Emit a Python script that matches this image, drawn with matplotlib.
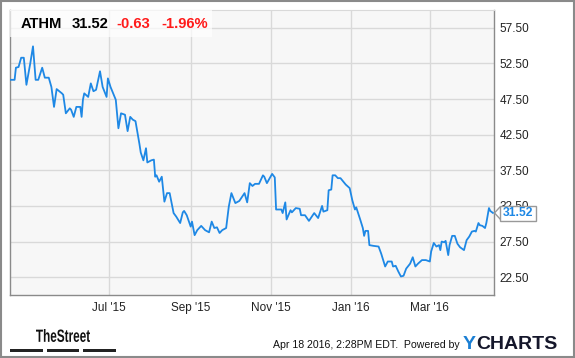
import matplotlib
matplotlib.use("Agg")
import matplotlib.pyplot as plt
import matplotlib.dates as mdates
import pandas as pd
from matplotlib.patches import Rectangle, PathPatch
from matplotlib.textpath import TextPath
from matplotlib.font_manager import FontProperties
from matplotlib.transforms import Affine2D, IdentityTransform

plt.rcParams['font.family'] = ['Liberation Sans', 'DejaVu Sans']

W, H = 575, 358

# ATHM daily close
dates = [
    "2015-04-17", "2015-04-20", "2015-04-21", "2015-04-23", "2015-04-25", "2015-04-27",
    "2015-04-29", "2015-05-02", "2015-05-04", "2015-05-06", "2015-05-08", "2015-05-11",
    "2015-05-13", "2015-05-16", "2015-05-18", "2015-05-20", "2015-05-22", "2015-05-26",
    "2015-05-27", "2015-05-29", "2015-06-01", "2015-06-02", "2015-06-04", "2015-06-06",
    "2015-06-09", "2015-06-10", "2015-06-11", "2015-06-12", "2015-06-15", "2015-06-17",
    "2015-06-19", "2015-06-21", "2015-06-24", "2015-06-26", "2015-06-29", "2015-06-30",
    "2015-07-02", "2015-07-06", "2015-07-08", "2015-07-10", "2015-07-13", "2015-07-15",
    "2015-07-17", "2015-07-19", "2015-07-21", "2015-07-24", "2015-07-25", "2015-07-27",
    "2015-07-29", "2015-07-30", "2015-08-02", "2015-08-04", "2015-08-05", "2015-08-06",
    "2015-08-08", "2015-08-10", "2015-08-12", "2015-08-14", "2015-08-16", "2015-08-19",
    "2015-08-21", "2015-08-24", "2015-08-26", "2015-08-27", "2015-08-29", "2015-09-01",
    "2015-09-02", "2015-09-04", "2015-09-06", "2015-09-09", "2015-09-12", "2015-09-15",
    "2015-09-17", "2015-09-19", "2015-09-21", "2015-09-23", "2015-09-25", "2015-09-28",
    "2015-09-30", "2015-10-02", "2015-10-05", "2015-10-08", "2015-10-12", "2015-10-14",
    "2015-10-16", "2015-10-18", "2015-10-20", "2015-10-23", "2015-10-26", "2015-10-27",
    "2015-10-29", "2015-11-02", "2015-11-04", "2015-11-05", "2015-11-09", "2015-11-10",
    "2015-11-12", "2015-11-13", "2015-11-16", "2015-11-17", "2015-11-20", "2015-11-23",
    "2015-11-24", "2015-11-27", "2015-11-30", "2015-12-04", "2015-12-07", "2015-12-10",
    "2015-12-11", "2015-12-14", "2015-12-15", "2015-12-17", "2015-12-18", "2015-12-20",
    "2015-12-22", "2015-12-24", "2015-12-28", "2015-12-31", "2016-01-02", "2016-01-04",
    "2016-01-05", "2016-01-08", "2016-01-10", "2016-01-11", "2016-01-12", "2016-01-14",
    "2016-01-15", "2016-01-18", "2016-01-22", "2016-01-24", "2016-01-27", "2016-01-29",
    "2016-02-01", "2016-02-02", "2016-02-04", "2016-02-06", "2016-02-08", "2016-02-10",
    "2016-02-12", "2016-02-15", "2016-02-17", "2016-02-19", "2016-02-21", "2016-02-24",
    "2016-02-27", "2016-03-01", "2016-03-02", "2016-03-04", "2016-03-06", "2016-03-08",
    "2016-03-09", "2016-03-10", "2016-03-12", "2016-03-13", "2016-03-15", "2016-03-16",
    "2016-03-18", "2016-03-20", "2016-03-22", "2016-03-24", "2016-03-27", "2016-03-29",
    "2016-03-31", "2016-04-02", "2016-04-04", "2016-04-05", "2016-04-07", "2016-04-08",
    "2016-04-10", "2016-04-12", "2016-04-13", "2016-04-15", "2016-04-16", "2016-04-18",
]
prices = [
    50.2, 50.2, 51.9, 52.0, 53.3, 53.3,
    49.5, 52.6, 54.9, 50.2, 50.2, 51.9,
    50.5, 50.5, 49.2, 46.4, 48.9, 48.3,
    48.1, 45.5, 46.2, 46.0, 45.0, 46.4,
    46.4, 45.0, 47.4, 48.3, 47.8, 49.7,
    48.6, 48.8, 51.4, 49.2, 47.8, 50.4,
    49.2, 47.4, 43.4, 45.5, 45.3, 43.0,
    45.0, 44.6, 44.4, 41.2, 40.0, 38.9,
    40.6, 38.6, 38.9, 39.0, 36.6, 36.8,
    35.9, 36.6, 33.1, 34.3, 34.3, 31.5,
    31.0, 30.1, 31.6, 31.8, 31.2, 29.6,
    30.3, 28.4, 29.1, 29.7, 29.1, 28.8,
    30.3, 29.4, 29.5, 28.7, 29.1, 29.4,
    32.4, 34.3, 32.9, 33.2, 34.3, 33.0,
    35.7, 35.3, 35.6, 35.6, 36.8, 36.6,
    35.7, 37.0, 36.5, 32.0, 32.0, 31.5,
    33.0, 30.6, 31.9, 31.6, 32.2, 32.1,
    31.2, 31.2, 30.4, 31.5, 30.8, 32.5,
    31.7, 31.9, 34.7, 34.8, 36.8, 36.8,
    36.4, 36.4, 35.5, 35.0, 33.3, 32.0,
    32.3, 30.6, 29.4, 28.3, 29.0, 29.0,
    27.0, 26.9, 26.8, 25.8, 24.0, 24.7,
    24.7, 24.0, 24.1, 23.3, 22.6, 22.7,
    23.7, 24.4, 25.3, 24.0, 24.4, 24.9,
    24.9, 24.7, 26.1, 27.3, 26.8, 27.0,
    26.3, 27.5, 27.4, 27.6, 25.6, 27.0,
    28.3, 28.3, 27.2, 26.7, 26.3, 27.7,
    28.2, 28.9, 29.0, 28.9, 30.1, 29.8,
    29.7, 29.4, 30.1, 32.2, 31.8, 31.52,
]
yticks = [22.5, 27.5, 32.5, 37.5, 42.5, 47.5, 52.5, 57.5]
xticks = ["2015-07-01", "2015-09-01", "2015-11-01", "2016-01-01", "2016-03-01"]

ticker = "ATHM"
last = "31.52"
change = "-0.63"
change_pct = "-1.96%"
stamp = "Apr 18 2016, 2:28PM EDT.  Powered by"

blue = "#1e88e5"


def px(x, y):
    return x / W, 1 - y / H


fig = plt.figure(figsize=(W / 100, H / 100), dpi=100, facecolor="white")
ax = fig.add_axes([10 / W, 1 - 295 / H, 484 / W, 285 / H])
ax.set_facecolor("#f7f7f7")

d = pd.to_datetime(dates)
ax.plot(d, prices, color=blue, lw=1.3, solid_joinstyle="round", zorder=3)

ax.set_ylim(20, 60)
ax.set_xlim(pd.Timestamp("2015-04-16 12:00"), pd.Timestamp("2016-04-18 20:00"))
ax.set_yticks(yticks)
ax.set_yticklabels(["%.2f" % v for v in yticks])
ax.set_xticks(pd.to_datetime(xticks))
ax.xaxis.set_major_formatter(mdates.DateFormatter("%b '%y"))
ax.yaxis.tick_right()
ax.tick_params(length=0, labelsize=8.5, labelcolor="#222222")
ax.tick_params(axis="y", pad=4)
ax.tick_params(axis="x", pad=5)
ax.grid(True, color="#d9d9d9", lw=1)
ax.set_axisbelow(True)
for s in ["left", "right", "bottom"]:
    ax.spines[s].set_color("#8a8a8a")
    ax.spines[s].set_linewidth(1)
ax.spines["top"].set_color("#d9d9d9")

# header box with quote
ax.add_patch(Rectangle((0, 1 - 27 / 285), 202 / 484, 27 / 285, transform=ax.transAxes,
                       facecolor="white", alpha=0.7, edgecolor="none", zorder=4))
for xp, s, c in [(21, ticker, "black"), (71.5, last, "black"),
                 (116.5, change, "#ff1a1a"), (161.5, change_pct, "#ff1a1a")]:
    fig.text(*px(xp, 27.5), s, color=c, fontsize=10.6, fontweight="bold",
             va="baseline", ha="left", zorder=5)

# last price tag
lx, ly = ax.transData.transform((mdates.date2num(d[-1]), prices[-1]))
ly_top = H - ly
fig.patches.append(Rectangle(px(500, ly_top + 8), 36 / W, 15 / H, transform=fig.transFigure,
                             facecolor="white", edgecolor="#999999", lw=1, zorder=6))
fig.lines.append(plt.Line2D([500 / W, 494.5 / W, 500 / W],
                            [1 - (ly_top - 6) / H, 1 - ly_top / H, 1 - (ly_top + 6) / H],
                            transform=fig.transFigure, color="#999999", lw=1, zorder=7))
fig.text(*px(518, ly_top + 0.5), last, color=blue, fontsize=8.7, fontweight="bold",
         ha="center", va="center", zorder=8)

# TheStreet logo, condensed bold text
tp = TextPath((0, 0), "TheStreet", size=18, prop=FontProperties(family="Liberation Sans", weight="bold"))
ext = tp.get_extents()
sx = 54 / ext.width
sy = 13 / ext.height
tr = Affine2D().translate(-ext.x0, -ext.y0).scale(sx, sy).translate(36, H - 342)
fig.patches.append(PathPatch(tp, transform=tr + IdentityTransform(), facecolor="#111111",
                             edgecolor="none"))
for x0, x1 in [(10, 43), (47, 79), (83, 116)]:
    fig.patches.append(Rectangle(px(x0, 351.5), (x1 - x0) / W, 3 / H,
                                 transform=fig.transFigure, facecolor="#222222", edgecolor="none"))

# footer
fig.text(*px(460, 348), stamp, fontsize=7.6, color="#111111", ha="right", va="baseline")
ty = fig.text(*px(463, 349), "Y", fontsize=14, fontweight="bold", color="#1a7fd4",
              ha="left", va="baseline")
ax.annotate("CHARTS", xy=(1, 0), xycoords=ty, xytext=(0.5, 0), textcoords="offset points",
            fontsize=14, fontweight="bold", color="#15172b", ha="left", va="bottom",
            annotation_clip=False)

# outer border
fig.patches.append(Rectangle((0.001, 0.002), 0.997, 0.995, transform=fig.transFigure,
                             facecolor="none", edgecolor="#8a8a8a", lw=1.5))

fig.savefig("out.png", dpi=100)
